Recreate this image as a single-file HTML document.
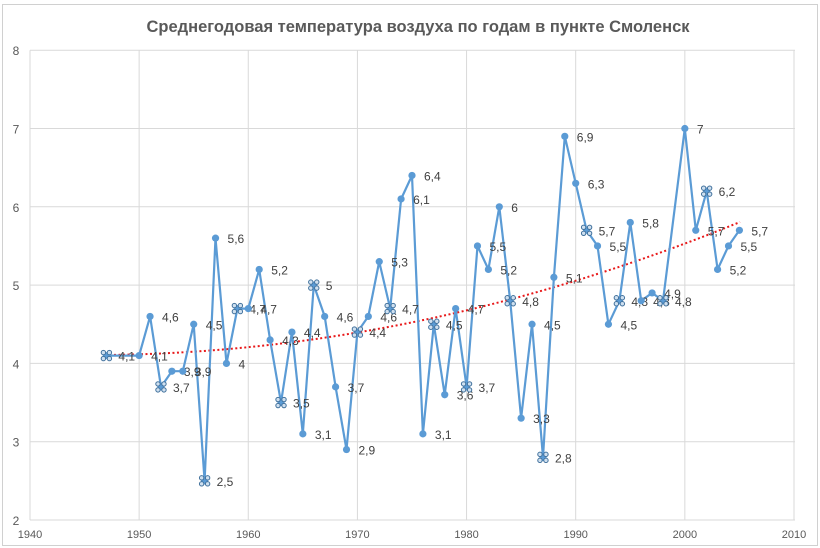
<!DOCTYPE html>
<html><head><meta charset="utf-8">
<style>
html,body{margin:0;padding:0;background:#fff;}
svg{display:block;font-family:"Liberation Sans","DejaVu Sans",sans-serif;}
</style></head>
<body>
<svg id="c" width="820" height="548" viewBox="0 0 820 548" xmlns="http://www.w3.org/2000/svg">
<rect x="0" y="0" width="820" height="548" fill="#fff"/>
<rect x="2.5" y="4.5" width="815" height="541" fill="none" stroke="#d0d0d0"/>
<text x="418" y="32" text-anchor="middle" font-size="16.5" font-weight="bold" fill="#595959">Среднегодовая  температура воздуха по годам в пункте Смоленск</text>
<g id="grid"></g>
<path d="M105,355 Q422,352 740,222" fill="none" stroke="#e8191a" stroke-width="2" stroke-dasharray="2,2.5"/>
<g id="series"></g>
</svg>
<script>
var X=function(yr){return 30+(yr-1940)*10.914;};
var Y=function(v){return 520-(v-2)*78.3;};
var g=document.getElementById('grid'),s='';
for(var v=2;v<=8;v++){var y=Y(v);s+='<line x1="30" x2="795" y1="'+y+'" y2="'+y+'" stroke="#d9d9d9"/>';
s+='<text x="16" y="'+(y+5)+'" font-size="12" fill="#595959" text-anchor="middle">'+v+'</text>';}
for(var yr=1940;yr<=2010;yr+=10){var x=X(yr);s+='<line y1="'+Y(8)+'" y2="'+Y(2)+'" x1="'+x+'" x2="'+x+'" stroke="#d9d9d9"/>';
s+='<text x="'+x+'" y="538" font-size="11" fill="#595959" text-anchor="middle">'+yr+'</text>';}
g.innerHTML=s;
var d=[[1947,4.1,1],[1950,4.1],[1951,4.6],[1952,3.7,1],[1953,3.9],[1954,3.9],[1955,4.5],[1956,2.5,1],[1957,5.6],[1958,4.0],[1959,4.7,1],[1960,4.7],[1961,5.2],[1962,4.3],[1963,3.5,1],[1964,4.4],[1965,3.1],[1966,5.0,1],[1967,4.6],[1968,3.7],[1969,2.9],[1970,4.4,1],[1971,4.6],[1972,5.3],[1973,4.7,1],[1974,6.1],[1975,6.4],[1976,3.1],[1977,4.5,1],[1978,3.6],[1979,4.7],[1980,3.7,1],[1981,5.5],[1982,5.2],[1983,6.0],[1984,4.8,1],[1985,3.3],[1986,4.5],[1987,2.8,1],[1988,5.1],[1989,6.9],[1990,6.3],[1991,5.7,1],[1992,5.5],[1993,4.5],[1994,4.8,1],[1995,5.8],[1996,4.8],[1997,4.9],[1998,4.8,1],[2000,7.0],[2001,5.7],[2002,6.2,1],[2003,5.2],[2004,5.5],[2005,5.7]];
var pts=d.map(function(p){return X(p[0]).toFixed(1)+','+Y(p[1]).toFixed(1);}).join(' ');
var o='<polyline points="'+pts+'" fill="none" stroke="#5b9bd5" stroke-width="2.2" stroke-linejoin="round"/>';
d.forEach(function(p){var x=X(p[0]),y=Y(p[1]);
o+='<circle cx="'+x+'" cy="'+y+'" r="3.6" fill="#5b9bd5"/>';
if(p[2]){[[-3,-3],[3,-3],[-3,3],[3,3]].forEach(function(q){o+='<circle cx="'+(x+q[0])+'" cy="'+(y+q[1])+'" r="2.2" fill="#cfe0f0" stroke="#41719c" stroke-width="1"/>';});}
o+='<text x="'+(x+12)+'" y="'+(y+5)+'" font-size="12" fill="#404040">'+String(p[1].toFixed(1)).replace('.0','').replace('.',',')+'</text>';});
document.getElementById('series').innerHTML=o;
</script>
</body></html>
